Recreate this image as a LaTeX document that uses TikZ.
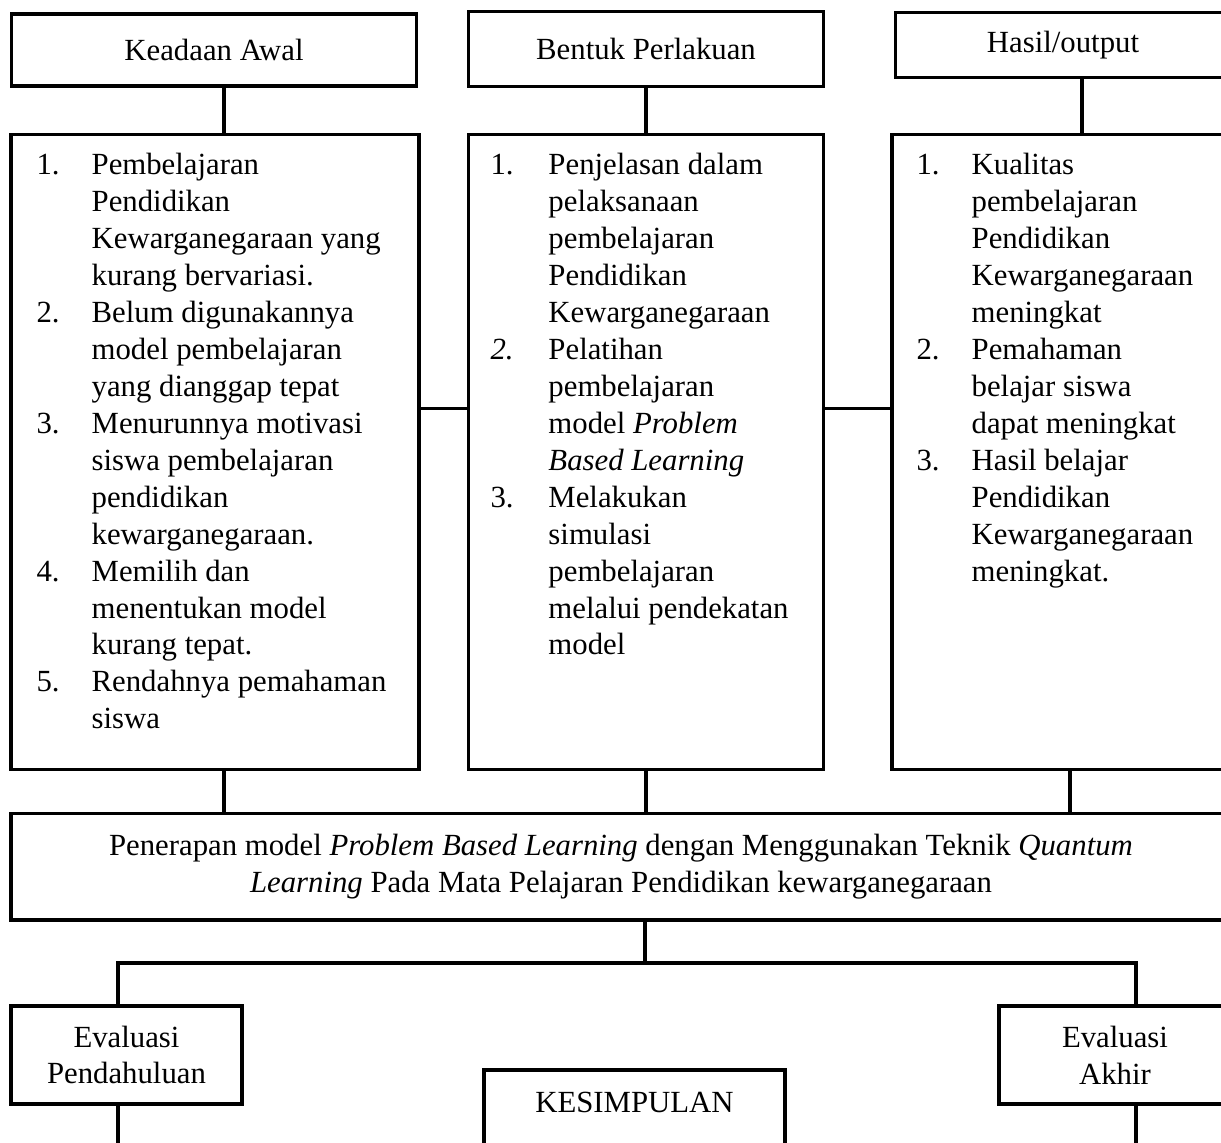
\documentclass[tikz,border=0pt]{standalone}
\usepackage{fontspec}
\setmainfont{Liberation Serif}
\usetikzlibrary{positioning}

\begin{document}
\begin{tikzpicture}[x=0.39pt, y=-0.39pt, line width=1.2pt,
    font=\fontsize{12}{14.4}\selectfont,
    box/.style={draw, inner sep=0pt, align=center},
    lst/.style={anchor=base west, inner sep=0pt}]
        \useasboundingbox (0,0) rectangle (1221,1143);

        % Headings
        \node[box, minimum width=158.3pt, minimum height=28.1pt] (kaw) at (214,50) {Keadaan Awal};
        \node[box, minimum width=138.8pt, minimum height=28.9pt] (bpl) at (646,49) {Bentuk Perlakuan};
        \node[box, minimum width=131pt, minimum height=25.7pt] (has) at (1063,45) {Hasil/output};

        % Panels
        \node[box, minimum width=159.1pt, minimum height=248pt] (pl) at (215,452) {};
        \node[box, minimum width=138.8pt, minimum height=248pt] (pm) at (646,452) {};
        \node[box, minimum width=132.2pt, minimum height=248pt] (pr) at (1061.5,452) {};

        \node[lst] (pltxt) at (35,175) {\begin{tabular}[t]{@{}p{21.5pt}@{}l@{}}
            1. & Pembelajaran \\
               & Pendidikan \\
               & Kewarganegaraan yang \\
               & kurang bervariasi. \\
            2. & Belum digunakannya \\
               & model pembelajaran \\
               & yang dianggap tepat \\
            3. & Menurunnya motivasi \\
               & siswa pembelajaran \\
               & pendidikan \\
               & kewarganegaraan. \\
            4. & Memilih dan \\
               & menentukan model \\
               & kurang tepat. \\
            5. & Rendahnya pemahaman \\
               & siswa
        \end{tabular}};
        \node[lst] (pmtxt) at (489,175) {\begin{tabular}[t]{@{}p{22.6pt}@{}l@{}}
            1. & Penjelasan dalam \\
               & pelaksanaan \\
               & pembelajaran \\
               & Pendidikan \\
               & Kewarganegaraan \\
            \textit{2.} & Pelatihan \\
               & pembelajaran \\
               & model \textit{Problem} \\
               & \textit{Based Learning} \\
            3. & Melakukan \\
               & simulasi \\
               & pembelajaran \\
               & melalui pendekatan \\
               & model
        \end{tabular}};
        \node[lst] (prtxt) at (915,175) {\begin{tabular}[t]{@{}p{21.5pt}@{}l@{}}
            1. & Kualitas \\
               & pembelajaran \\
               & Pendidikan \\
               & Kewarganegaraan \\
               & meningkat \\
            2. & Pemahaman \\
               & belajar siswa \\
               & dapat meningkat \\
            3. & Hasil belajar \\
               & Pendidikan \\
               & Kewarganegaraan \\
               & meningkat.
        \end{tabular}};

        % Wide box
        \node[box, minimum width=475.8pt, minimum height=41.7pt] (pen) at (621,866.5)
            {Penerapan model \textit{Problem Based Learning} dengan Menggunakan Teknik \textit{Quantum}\\
             \textit{Learning} Pada Mata Pelajaran Pendidikan kewarganegaraan};

        % Evaluation boxes
        \node[box, minimum width=90.1pt, minimum height=38.2pt] (evp) at (126.5,1055) {Evaluasi\\Pendahuluan};
        \node[box, minimum width=90.5pt, minimum height=38.2pt] (eva) at (1115,1055) {Evaluasi\\Akhir};
        \node[box, minimum width=117.4pt, minimum height=39pt] (kes) at (634.5,1120) {};
        \node (kestxt) at (634.5,1102) {KESIMPULAN};

        % Connectors
        \draw ([xshift=3.9pt]kaw.south) -- ([xshift=3.9pt]kaw.south |- pl.north);
        \draw (bpl.south) -- (pm.north);
        \draw ([xshift=7.4pt]has.south) -- ([xshift=7.4pt]has.south |- pr.north);
        \draw ([yshift=16.8pt]pl.east) -- ([yshift=16.8pt]pl.east -| pm.west);
        \draw ([yshift=16.8pt]pm.east) -- ([yshift=16.8pt]pm.east -| pr.west);

        \draw ([xshift=3.5pt]pl.south) -- ([xshift=3.5pt]pl.south |- pen.north);
        \draw (pm.south) -- (pm.south |- pen.north);
        \draw ([xshift=3.3pt]pr.south) -- ([xshift=3.3pt]pr.south |- pen.north);

        \coordinate (fork) at (645,963);
        \coordinate (forkL) at (118,963);
        \coordinate (forkR) at (1136,963);
        \draw (pen.south -| fork) -- (fork);
        \draw (evp.north -| forkL) -- (forkL) -- (forkR) -- (eva.north -| forkR);

        \coordinate (endL) at (118,1160);
        \coordinate (endR) at (1136,1160);
        \draw (evp.south -| endL) -- (endL);
        \draw (eva.south -| endR) -- (endR);
    \end{tikzpicture}
\end{document}
